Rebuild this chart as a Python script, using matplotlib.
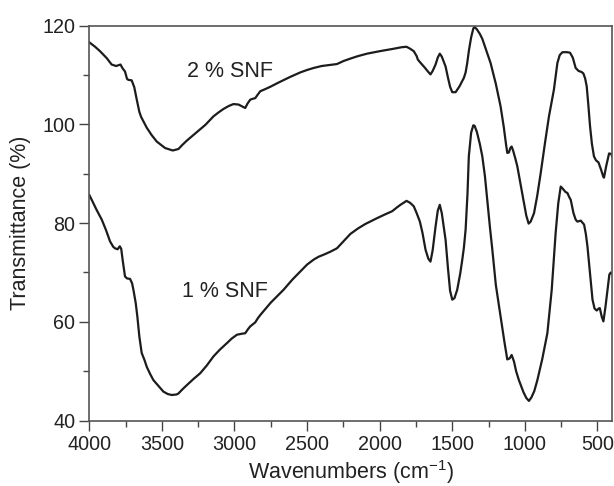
import matplotlib.pyplot as plt
from matplotlib.ticker import MultipleLocator

plt.rcParams['font.family'] = ['Liberation Sans', 'DejaVu Sans']
plt.rcParams['mathtext.default'] = 'regular'

# 2 % SNF spectrum (wavenumber, transmittance)
wn_2 = [4000, 3960, 3926, 3880, 3846, 3815, 3795, 3785, 3770, 3754, 3740, 3731, 3708, 3690,
        3673, 3655, 3643, 3625, 3604, 3570, 3535, 3478, 3425, 3386, 3360, 3328, 3300, 3259,
        3200, 3145, 3110, 3076, 3040, 3007, 2972, 2945, 2926, 2910, 2891, 2870, 2857, 2840,
        2822, 2790, 2753, 2700, 2616, 2547, 2500, 2455, 2400, 2317, 2294, 2250, 2202, 2150,
        2087, 2000, 1903, 1850, 1815, 1790, 1765, 1745, 1737, 1720, 1690, 1665, 1650, 1635,
        1615, 1600, 1586, 1572, 1560, 1546, 1530, 1515, 1500, 1477, 1450, 1420, 1408, 1397,
        1385, 1370, 1355, 1346, 1330, 1310, 1293, 1270, 1236, 1200, 1167, 1145, 1130, 1121,
        1110, 1100, 1091, 1080, 1065, 1052, 1030, 1010, 990, 974, 960, 937, 915, 891, 860,
        834, 800, 776, 760, 741, 710, 689, 670, 650, 630, 610, 597, 585, 574, 563, 551, 538,
        524, 510, 493, 475, 460, 455, 440, 420, 405, 397]
t_2 = [116.6, 115.7, 114.8, 113.4, 112.1, 111.8, 112.0, 112.1, 111.3, 110.7, 109.2, 109.0,
       108.9, 107.5, 105.0, 102.5, 101.5, 100.5, 99.3, 97.8, 96.5, 95.2, 94.7, 95.0, 95.8,
       96.7, 97.4, 98.4, 99.9, 101.6, 102.4, 103.1, 103.7, 104.1, 104.0, 103.6, 103.3, 104.2,
       105.0, 105.2, 105.3, 106.0, 106.7, 107.1, 107.6, 108.4, 109.6, 110.5, 111.0, 111.4,
       111.8, 112.1, 112.2, 112.8, 113.3, 113.8, 114.3, 114.8, 115.3, 115.6, 115.7, 115.3,
       114.8, 113.8, 113.1, 112.5, 111.5, 110.6, 110.1, 110.8, 112.1, 113.5, 114.3, 113.7,
       112.8, 111.7, 109.5, 107.6, 106.5, 106.5, 107.7, 109.4, 110.5, 112.4, 115.0, 117.6,
       119.4, 119.7, 119.2, 118.3, 117.3, 115.3, 112.4, 108.2, 103.6, 99.4, 96.0, 94.2, 94.3,
       95.2, 95.5, 94.6, 93.0, 91.5, 88.0, 84.7, 81.5, 79.9, 80.3, 82.0, 85.5, 90.1, 96.5,
       101.6, 107.0, 112.4, 114.0, 114.6, 114.6, 114.5, 113.5, 111.4, 110.8, 110.6, 110.3,
       109.3, 107.7, 104.0, 99.6, 96.0, 93.5, 92.7, 92.3, 90.8, 89.4, 89.2, 91.5, 94.1, 94.0,
       93.4]

# 1 % SNF spectrum
wn_1 = [4000, 3983, 3950, 3914, 3885, 3857, 3835, 3823, 3805, 3790, 3780, 3770, 3754, 3740,
        3719, 3705, 3696, 3680, 3669, 3655, 3639, 3620, 3604, 3580, 3558, 3520, 3490, 3460,
        3432, 3400, 3386, 3360, 3328, 3280, 3236, 3190, 3145, 3100, 3052, 3020, 2983, 2950,
        2926, 2905, 2891, 2870, 2857, 2840, 2822, 2750, 2662, 2600, 2547, 2500, 2455, 2420,
        2386, 2340, 2294, 2250, 2202, 2150, 2100, 2018, 1960, 1914, 1880, 1857, 1830, 1815,
        1790, 1765, 1745, 1723, 1705, 1684, 1665, 1650, 1635, 1615, 1600, 1586, 1572, 1560,
        1546, 1530, 1515, 1500, 1485, 1466, 1445, 1431, 1420, 1408, 1395, 1386, 1370, 1355,
        1346, 1330, 1310, 1293, 1275, 1259, 1240, 1224, 1200, 1167, 1140, 1121, 1105, 1091,
        1075, 1060, 1041, 1010, 990, 972, 955, 935, 914, 880, 845, 815, 788, 770, 753, 740,
        720, 707, 695, 684, 665, 650, 638, 615, 592, 580, 569, 550, 534, 520, 505, 492, 484,
        470, 459, 445, 431, 418, 408, 396]
t_1 = [85.7, 84.7, 82.7, 80.7, 78.6, 76.3, 75.2, 74.9, 74.7, 75.3, 74.8, 72.5, 69.2, 68.8,
       68.7, 67.8, 66.5, 63.8, 61.1, 57.0, 53.7, 52.3, 50.9, 49.4, 48.2, 46.9, 45.9, 45.4,
       45.2, 45.3, 45.5, 46.3, 47.2, 48.5, 49.6, 51.2, 53.0, 54.4, 55.7, 56.6, 57.4, 57.6,
       57.7, 58.6, 59.1, 59.6, 59.9, 60.7, 61.4, 63.9, 66.5, 68.6, 70.2, 71.6, 72.6, 73.2,
       73.6, 74.2, 74.9, 76.3, 77.8, 78.9, 79.8, 81.0, 81.8, 82.4, 83.2, 83.7, 84.2, 84.5,
       84.1, 83.4, 82.0, 80.3, 78.0, 74.6, 72.8, 72.2, 74.5, 79.3, 82.5, 83.7, 82.0, 79.5,
       76.6, 71.0, 66.3, 64.5, 64.8, 66.5, 69.8, 72.6, 75.0, 78.7, 86.0, 93.5, 98.3, 99.8,
       99.7, 98.4, 96.0, 93.5, 89.5, 84.7, 79.0, 74.6, 67.5, 61.1, 55.8, 52.4, 52.6, 53.3,
       52.0, 50.0, 48.2, 45.8, 44.6, 44.0, 44.7, 46.0, 48.2, 52.5, 57.7, 66.5, 78.0, 84.0,
       87.4, 87.0, 86.3, 86.1, 85.3, 84.7, 82.0, 80.7, 80.3, 80.5, 79.7, 77.8, 75.3, 69.5,
       64.5, 62.7, 62.3, 62.7, 62.8, 61.0, 60.1, 63.0, 66.5, 69.6, 70.0, 69.6]

fig = plt.figure(figsize=(6.14, 4.86), dpi=100)
ax = fig.add_axes([0.1454, 0.1344, 0.8513, 0.8131])

line_col = '#1c1c1c'
ax.plot(wn_2, t_2, color=line_col, lw=1.6)
ax.plot(wn_1, t_1, color=line_col, lw=1.6)

ax.text(3030, 110.7, '2 % SNF', fontsize=15.5, color='#222222', ha='center', va='center')
ax.text(3064, 66.1, '1 % SNF', fontsize=15.5, color='#222222', ha='center', va='center')

ax.set_xlim(4000, 400)
ax.set_ylim(40, 120)
ax.xaxis.set_major_locator(MultipleLocator(500))
ax.xaxis.set_minor_locator(MultipleLocator(250))
ax.yaxis.set_major_locator(MultipleLocator(20))
ax.yaxis.set_minor_locator(MultipleLocator(10))

ax.tick_params(which='major', direction='out', length=7, width=1, colors='#444444',
               labelsize=14.2, labelcolor='#222222', pad=3)
ax.tick_params(which='minor', direction='out', length=4, width=1, colors='#444444')
for s in ax.spines.values():
    s.set_color('#555555')
    s.set_linewidth(1.2)

ax.set_xlabel('Wavenumbers (cm$^{-1}$)', fontsize=15.5, color='#222222', labelpad=3.5)
ax.set_ylabel('Transmittance (%)', fontsize=15.5, color='#222222', labelpad=8)

fig.savefig('out.png', dpi=100, facecolor='white')
